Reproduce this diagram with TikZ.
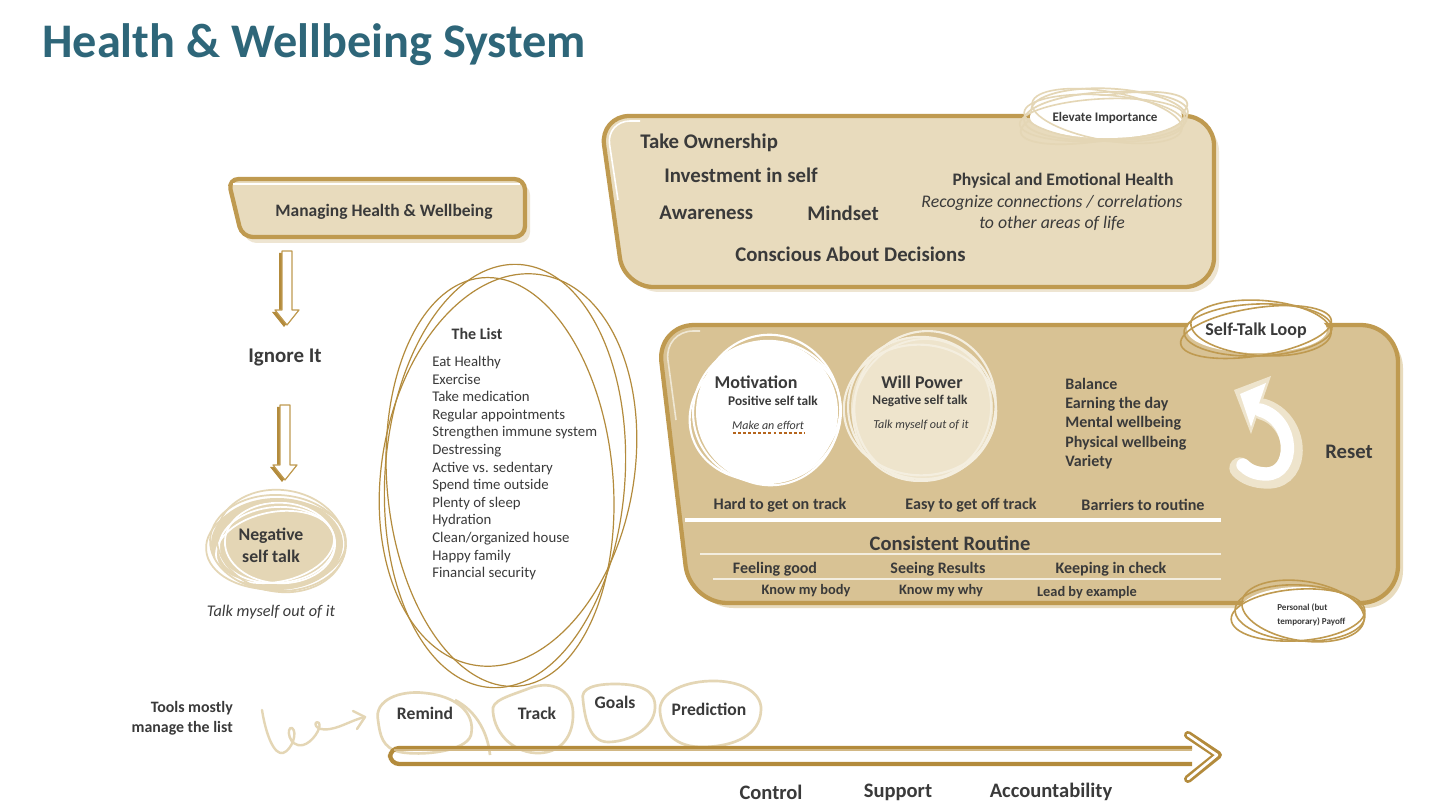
\documentclass[tikz,border=0pt]{standalone}
\usepackage{fontspec}
\setmainfont{Carlito}
\usetikzlibrary{calc}
\definecolor{titlec}{HTML}{2E6679}
\definecolor{gold}{HTML}{BF9A50}
\definecolor{golddk}{HTML}{B38B3C}
\definecolor{beigec}{HTML}{E8DBBD}
\definecolor{beigesh}{HTML}{EEE5D2}
\definecolor{tanc}{HTML}{D8C294}
\definecolor{ink}{HTML}{3A3A3A}
\definecolor{scrib}{HTML}{E4D6B5}
\definecolor{willc}{HTML}{EEE4CC}
\definecolor{willsc}{HTML}{F4EEDF}
\definecolor{dotc}{HTML}{B5651D}
\newcommand\fs[2]{\fontsize{#1}{#2}\selectfont}
\newcommand\scribble[7]{% style, lw, cx, cy, rx, ry, base rotation
  \draw[#1, line width=#2] (#3,#4) ellipse [x radius=#5, y radius=#6, rotate=#7];
  \draw[#1, line width=#2] ($(#3,#4)+(3,-2)$) ellipse [x radius=#5*0.95, y radius=#6*1.06, rotate=#7-6];
  \draw[#1, line width=#2] ($(#3,#4)+(-2,2)$) ellipse [x radius=#5*1.03, y radius=#6*0.92, rotate=#7+7];}
\newcommand\harrow[2]{%
  \fill[golddk] ($(#1)+(-8,2)$) -- ($(#1)+(2,2)$) -- ($(#2)+(2,-13)$) -- ($(#2)+(9,-13)$) -- ($(#2)+(-3,2)$) -- ($(#2)+(-15,-13)$) -- ($(#2)+(-8,-13)$) -- cycle;
  \draw[gold, fill=white, line width=0.9, line join=round] ($(#1)+(-5,0)$) -- ($(#1)+(5,0)$) -- ($(#2)+(5,-15)$) -- ($(#2)+(12,-15)$) -- (#2) -- ($(#2)+(-12,-15)$) -- ($(#2)+(-5,-15)$) -- cycle;}
\begin{document}
\begin{tikzpicture}[x=0.75pt,y=-0.75pt, every node/.style={text=ink, inner sep=0pt},
  bt/.style={font=\fs{#1}{#1}\bfseries}, it/.style={font=\fs{#1}{#1}\itshape}]
\useasboundingbox (0,0) rectangle (1456,812);
\fill[white] (0,0) rectangle (1456,812);

% title
\node[anchor=base west, text=titlec, font=\fs{36.2}{40}\bfseries] (title) at (42,58) {Health \& Wellbeing System};

% managing box
\fill[beigesh, rounded corners=8pt] (232,184) -- (530,184) -- (530,243) -- (246,243) -- cycle;
\draw[gold, line width=3.2, fill=beigec, rounded corners=8pt] (228,179) -- (525,179) -- (525,237) -- (242,237) -- cycle;
\draw[white, line width=1, rounded corners=6pt] (233,184) -- (520,184);
\node[bt=13.1] (mgr) at (384,212) {Managing Health \& Wellbeing};

% arrows down
\coordinate (a1s) at (287,251);
\coordinate (a1e) at (287,325);
\harrow{a1s}{a1e}
\node[bt=15.7] (ignore) at (285,357) {Ignore It};
\coordinate (a2s) at (285,405);
\coordinate (a2e) at (285,480);
\harrow{a2s}{a2e}

% negative self talk blob
\fill[scrib] (277,544) ellipse [x radius=66, y radius=46];
\scribble{white}{1.3}{277}{545}{58}{38}{4}
\scribble{scrib}{1.3}{278}{543}{68}{48}{-3}
\node[align=center, font=\fs{13.3}{16.5}\bfseries] (neg) at (271,545) {Negative\\self talk};
\node[it=12.2] (negnote) at (271,612) {Talk myself out of it};

% the list oval
\draw[golddk, line width=0.9] (505,476) ellipse [x radius=120, y radius=212, rotate=-4];
\draw[golddk, line width=0.9] (500,482) ellipse [x radius=113, y radius=205, rotate=5];
\draw[golddk, line width=0.9] (508,470) ellipse [x radius=126, y radius=198, rotate=-10];
\node[bt=12] (listtitle) at (477,334) {The List};
\node[anchor=north west, align=left, font=\fs{11.1}{13.2}] (list) at (432,356)
 {Eat Healthy\\Exercise\\Take medication\\Regular appointments\\Strengthen immune system\\Destressing\\Active vs. sedentary\\Spend time outside\\Plenty of sleep\\Hydration\\Clean/organized house\\Happy family\\Financial security};

% top panel
\fill[beigesh, rounded corners=22pt] (606,122) -- (1219,122) -- (1219,292) -- (630,292) -- cycle;
\draw[gold, line width=3.2, fill=beigec, rounded corners=22pt] (600,116) -- (1214,116) -- (1214,287) -- (624,287) -- cycle;
\draw[white, line width=1.2, rounded corners=18pt] (640,121) -- (606,121) -- (618,200);
\scribble{scrib}{1.3}{1106}{116}{82}{24}{3}
\fill[white] (1106,117) ellipse [x radius=76, y radius=21];
\scribble{scrib}{1.2}{1104}{118}{80}{23}{-4}
\node[bt=9.8] (elev) at (1105,118) {Elevate Importance};
\node[bt=15.6, anchor=west] (own) at (640,143) {Take Ownership};
\node[bt=15.6, anchor=west] (inv) at (664,175) {Investment in self};
\node[bt=15.6, anchor=west] (aware) at (659,213) {Awareness};
\node[bt=15.6, anchor=west] (mind) at (807,213) {Mindset};
\node[bt=15.6, anchor=west] (consc) at (735,254) {Conscious About Decisions};
\node[bt=13.2] (phys) at (1063,181) {Physical and Emotional Health};
\node[align=center, font=\fs{13.3}{16}\itshape] (recog) at (1052,213) {Recognize connections / correlations\\to other areas of life};

% self-talk panel
\fill[beigec, rounded corners=28pt] (662,331) -- (1403,331) -- (1403,608) -- (696,608) -- cycle;
\draw[gold, line width=3.2, fill=tanc, rounded corners=28pt] (657,325) -- (1398,325) -- (1398,603) -- (690,603) -- cycle;
\draw[white!60!tanc, line width=1.2, rounded corners=22pt] (700,331) -- (664,331) -- (676,420);

% motivation circle
\fill[white] (767,412) circle [radius=71];
\scribble{white}{1.6}{767}{412}{74}{71}{10}
\draw[white, line width=1.4] (767,412) ellipse [x radius=66, y radius=70, rotate=30];
\node[bt=13.5] (motiv) at (756,382) {Motivation};
\node[bt=10] (pos) at (773,401) {Positive self talk};
\node[it=9] (effort) at (768,425) {Make an effort};
\draw[dotc, line width=1.6, dash pattern=on 2.2pt off 1.6pt] (733,433) -- (804,433);

% will power circle
\fill[willc] (922,408) circle [radius=71];
\scribble{willsc}{1.6}{922}{408}{74}{71}{-10}
\draw[willsc, line width=1.4] (922,410) ellipse [x radius=68, y radius=72, rotate=-30];
\node[bt=13.5] (will) at (922,382) {Will Power};
\node[bt=10] (negst) at (920,401) {Negative self talk};
\node[it=9.1] (talk) at (921,425) {Talk myself out of it};

% right list
\node[anchor=north west, align=left, font=\fs{12}{14.4}\bfseries] (bal) at (1065,378)
 {Balance\\Earning the day\\Mental wellbeing\\Physical wellbeing\\Variety};

% reset arrow
\draw[willc, line width=16, line cap=round] (1262,409) .. controls (1300,420) and (1302,478) .. (1268,478) .. controls (1255,478) and (1246,474) .. (1240,468);
\fill[willc] (1234,390) -- (1271,376) -- (1251,434) -- cycle;
\draw[white, line width=10, line cap=round] (1260,410) .. controls (1295,420) and (1296,474) .. (1266,474) .. controls (1255,474) and (1248,470) .. (1243,465);
\fill[white] (1240,394) -- (1266,383) -- (1251,427) -- cycle;
\node[bt=15.5] (reset) at (1349,452) {Reset};

% track row
\node[bt=12.1] (hard) at (780,505) {Hard to get on track};
\node[bt=12.1] (easy) at (971,505) {Easy to get off track};
\node[bt=12.1] (barr) at (1143,505) {Barriers to routine};
\draw[white, line width=2.8] (685,520) -- (1221,520);
\node[bt=15.4] (cons) at (950,543) {Consistent Routine};
\draw[white!70!tanc, line width=1.1] (700,554) -- (1221,554);
\node[bt=12] (feel) at (775,569) {Feeling good};
\node[bt=12] (seeing) at (938,569) {Seeing Results};
\node[bt=12] (keep) at (1111,569) {Keeping in check};
\draw[white!70!tanc, line width=1.1] (713,579) -- (1221,579);
\node[bt=10.8] (body) at (806,591) {Know my body};
\node[bt=10.8] (why) at (941,591) {Know my why};
\node[bt=10.8] (lead) at (1087,593) {Lead by example};

% self-talk loop label
\fill[white] (1257,330) ellipse [x radius=70, y radius=23];
\scribble{gold}{1.2}{1258}{330}{74}{26}{2}
\node[bt=13.5] (loop) at (1256,331) {Self-Talk Loop};

% payoff
\fill[white] (1300,613) ellipse [x radius=62, y radius=26];
\scribble{gold}{1.2}{1300}{613}{65}{28}{-3}
\node[anchor=west, align=left, font=\fs{6.8}{10}\bfseries] (payoff) at (1277,615) {Personal (but\\temporary) Payoff};

% bottom tools
\node[anchor=east, align=right, font=\fs{11.9}{15}\bfseries] (tools) at (233,718) {Tools mostly\\manage the list};
\coordinate (sqs) at (262,710);
\coordinate (sqe) at (365,717);
\draw[scrib, line width=1.8, line cap=round, line join=round] (sqs) .. controls (266,735) and (274,755) .. (283,753)
  .. controls (292,750) and (298,732) .. (292,728) .. controls (286,726) and (288,748) .. (303,745)
  .. controls (312,743) and (322,728) .. (319,723) .. controls (314,719) and (312,732) .. (330,729)
  .. controls (342,727) and (352,720) .. (sqe);
\draw[scrib, line width=1.8, line cap=round, line join=round] (353,711) -- (sqe) -- (357,729);

\draw[scrib, line width=2] (378,720) .. controls (374,700) and (400,690) .. (425,693) .. controls (455,696) and (476,712) .. (471,735) .. controls (466,752) and (420,756) .. (400,752) .. controls (382,748) and (380,735) .. (378,720);
\draw[scrib, line width=2] (455,700) .. controls (478,712) and (488,735) .. (490,755);
\node[bt=13.2] (remind) at (425,713) {Remind};
\draw[scrib, line width=2] (493,712) .. controls (490,700) and (510,696) .. (530,688) .. controls (552,680) and (572,690) .. (573,712) .. controls (574,735) and (562,752) .. (540,753) .. controls (515,754) and (495,735) .. (493,712);
\node[bt=13.2] (track) at (537,713) {Track};
\draw[scrib, line width=2] (583,700) .. controls (580,688) and (595,684) .. (615,684) .. controls (640,684) and (656,690) .. (655,708) .. controls (654,728) and (630,742) .. (608,742) .. controls (590,742) and (585,720) .. (583,700);
\node[bt=13.2] (goals) at (615,702) {Goals};
\draw[scrib, line width=2] (660,712) .. controls (658,695) and (680,682) .. (710,681) .. controls (740,680) and (762,692) .. (761,710) .. controls (760,735) and (735,746) .. (705,747) .. controls (675,748) and (662,732) .. (660,712);
\node[bt=13.2] (pred) at (709,709) {Prediction};

% big arrow
\coordinate (bas) at (390,755);
\coordinate (bae) at (1218,755);
\draw[golddk, line width=3.2, rounded corners=7pt] ($(bae)+(-26,9)$) -- ($(bas)+(0,9)$) -- ($(bas)+(0,-7)$) -- ($(bae)+(-26,-7)$);
\draw[gold!70, line width=1.2] ($(bas)+(4,-5)$) -- ($(bae)+(-26,-5)$);
\draw[golddk, line width=6, line cap=round, line join=round] ($(bae)+(-30,-20)$) -- (bae) -- ($(bae)+(-30,24)$);
\draw[white, line width=2, line cap=round, line join=round] ($(bae)+(-30,-20)$) -- ($(bae)+(-1,0)$) -- ($(bae)+(-30,24)$);
\node[bt=15.4] (ctrl) at (771,792) {Control};
\node[bt=15.4] (supp) at (898,792) {Support};
\node[bt=15.4] (acc) at (1051,792) {Accountability};
\end{tikzpicture}
\end{document}
